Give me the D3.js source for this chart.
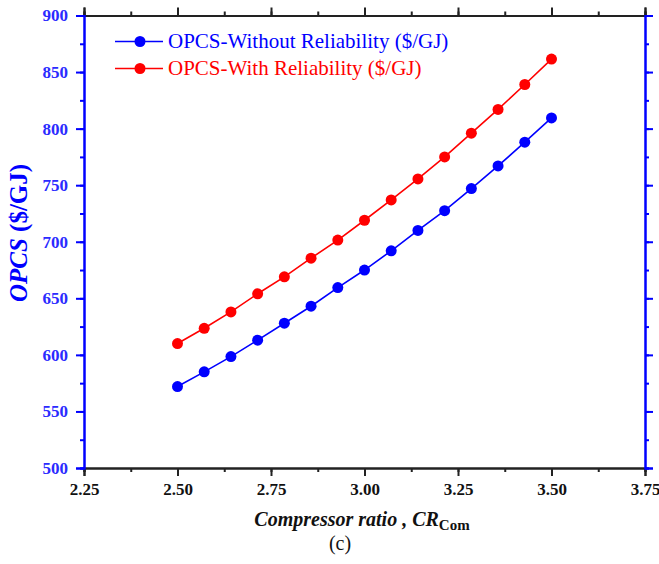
<!DOCTYPE html>
<html>
<head>
<meta charset="utf-8">
<script src="https://cdn.jsdelivr.net/npm/d3@7"></script>
<style>
  html, body { margin: 0; padding: 0; background: #fff; }
  svg { display: block; }
  text { font-family: "Liberation Serif", "Times New Roman", Times, "DejaVu Serif", serif; }
</style>
</head>
<body>
<svg id="chart" width="659" height="564"></svg>
<script>
// Compressor ratio values (15 evenly spaced design points)
const ratios = [2.5, 2.5714, 2.6429, 2.7143, 2.7857, 2.8571, 2.9286, 3.0,
                3.0714, 3.1429, 3.2143, 3.2857, 3.3571, 3.4286, 3.5];
// OPCS ($/GJ) without reliability
const opcsWithout = [572, 585, 598.5, 613, 628, 643, 659.5, 675, 692, 710, 727.5, 747, 767, 788, 809.5];
// OPCS ($/GJ) with reliability
const opcsWith = [610, 623.5, 638, 654, 669, 685.5, 701.5, 719, 737, 755.5, 775, 796, 817, 839, 861.5];

const xTicks = [2.25, 2.5, 2.75, 3.0, 3.25, 3.5, 3.75];
const yTicks = [500, 550, 600, 650, 700, 750, 800, 850, 900];
const seriesNames = ["OPCS-Without Reliability ($/GJ)", "OPCS-With Reliability ($/GJ)"];

const BLUE = "#0000ff", RED = "#ff0000", TICKBLUE = "#2b2bff";

const svg = d3.select("#chart");
const pLeft = 84, pRight = 645, pTop = 15.5, pBottom = 468;

const x = d3.scaleLinear().domain([2.25, 3.75]).range([pLeft, pRight]);
const y = d3.scaleLinear().domain([500, 900]).range([pBottom, pTop]);

const minorX = d3.range(0, 13).map(i => 2.25 + i * 0.125);
const minorY = d3.range(0, 17).map(i => 500 + i * 25);

// strip d3's default sans-serif font so the stylesheet applies
const plain = g => g.attr("font-family", null);

// bottom and top axes (black)
const blackAxes = svg.append("g");
blackAxes.append("g").attr("transform", `translate(0,${pBottom})`)
  .call(d3.axisBottom(x).tickValues(minorX).tickSize(4).tickFormat(""));
blackAxes.append("g").attr("transform", `translate(0,${pBottom})`)
  .call(d3.axisBottom(x).tickValues(xTicks).tickSize(8).tickPadding(7)
        .tickFormat(d3.format(".2f")))
  .call(plain)
  .call(g => g.selectAll("text").attr("font-weight", "bold")
        .attr("font-size", 17).attr("fill", "#111"));
blackAxes.append("g").attr("transform", `translate(0,${pTop})`)
  .call(d3.axisTop(x).tickValues(minorX).tickSize(4).tickFormat(""));
blackAxes.append("g").attr("transform", `translate(0,${pTop})`)
  .call(d3.axisTop(x).tickValues(xTicks).tickSize(8).tickFormat(""));
blackAxes.selectAll(".domain, line").attr("stroke", "#222").attr("stroke-width", 2);

// left and right axes (blue)
const blueAxes = svg.append("g");
blueAxes.append("g").attr("transform", `translate(${pLeft},0)`)
  .call(d3.axisLeft(y).tickValues(minorY).tickSize(4).tickFormat(""));
blueAxes.append("g").attr("transform", `translate(${pLeft},0)`)
  .call(d3.axisLeft(y).tickValues(yTicks).tickSize(8).tickPadding(8))
  .call(plain)
  .call(g => g.selectAll("text").attr("font-weight", "bold")
        .attr("font-size", 17).attr("fill", TICKBLUE));
blueAxes.append("g").attr("transform", `translate(${pRight},0)`)
  .call(d3.axisRight(y).tickValues(minorY).tickSize(4).tickFormat(""));
blueAxes.append("g").attr("transform", `translate(${pRight},0)`)
  .call(d3.axisRight(y).tickValues(yTicks).tickSize(8).tickFormat(""));
blueAxes.selectAll(".domain, line").attr("stroke", BLUE).attr("stroke-width", 2);

// series
const line = d3.line().x((d, i) => x(ratios[i])).y(d => y(d));
[[opcsWithout, BLUE], [opcsWith, RED]].forEach(([vals, col]) => {
  svg.append("path").datum(vals).attr("d", line)
    .attr("fill", "none").attr("stroke", col).attr("stroke-width", 1.6);
  svg.append("g").selectAll("circle").data(vals).join("circle")
    .attr("cx", (d, i) => x(ratios[i])).attr("cy", d => y(d))
    .attr("r", 5.5).attr("fill", col);
});

// legend
const legend = svg.append("g");
[[BLUE, 41.5], [RED, 68.5]].forEach(([col, ly], i) => {
  legend.append("line").attr("x1", 115).attr("x2", 163).attr("y1", ly).attr("y2", ly)
    .attr("stroke", col).attr("stroke-width", 1.6);
  legend.append("circle").attr("cx", 140).attr("cy", ly).attr("r", 5.5).attr("fill", col);
  legend.append("text").attr("x", 168).attr("y", ly + 6.5)
    .attr("font-size", 21).attr("fill", col)
    .text(seriesNames[i]);
});

// y axis title
const yt = svg.append("text")
  .attr("transform", "translate(27,233) rotate(-90)")
  .attr("text-anchor", "middle")
  .attr("font-size", 25).attr("font-weight", "bold")
  .attr("fill", BLUE);
yt.append("tspan").attr("font-style", "italic").text("OPCS");
yt.append("tspan").text(" ($/GJ)");

// x axis title
const xt = svg.append("text")
  .attr("x", 362).attr("y", 526).attr("text-anchor", "middle")
  .attr("font-size", 20).attr("font-weight", "bold")
  .attr("font-style", "italic").attr("fill", "#111");
xt.append("tspan").text("Compressor ratio , CR");
xt.append("tspan").attr("font-style", "normal").attr("font-size", 15).attr("dy", 4).text("Com");

// panel label
svg.append("text").attr("x", 340).attr("y", 550).attr("text-anchor", "middle")
  .attr("font-size", 20).attr("fill", "#111").text("(c)");
</script>
</body>
</html>
